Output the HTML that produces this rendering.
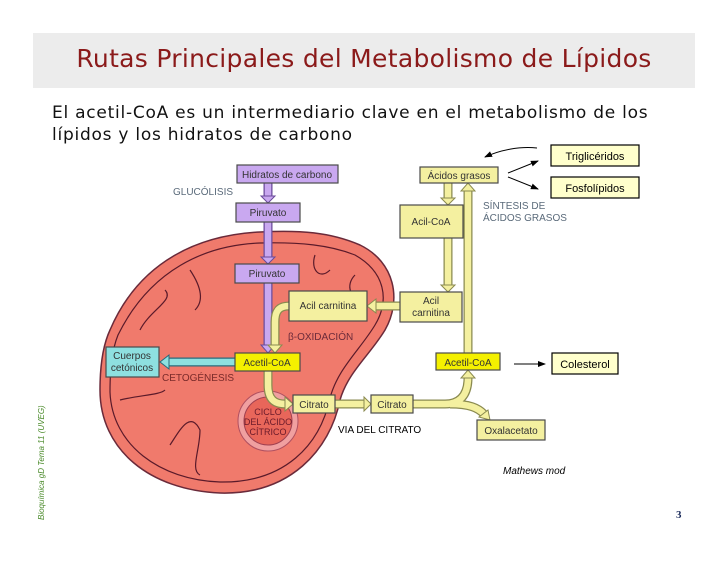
<!DOCTYPE html>
<html><head><meta charset="utf-8"><style>
body{margin:0;width:728px;height:563px;background:#fff;position:relative;overflow:hidden;font-family:"Liberation Sans",sans-serif}
.band{position:absolute;left:33px;top:33px;width:662px;height:55px;background:#ececec}
.title{position:absolute;left:33px;top:44px;width:662px;text-align:center;color:#8b1a1a;font-family:"DejaVu Sans",sans-serif;font-size:25px;letter-spacing:0.3px}
.body{position:absolute;left:52px;top:102px;font-family:"DejaVu Sans",sans-serif;font-size:17px;line-height:22px;color:#111;letter-spacing:0.75px}
</style></head><body>
<div class="band"></div>
<div class="title">Rutas Principales del Metabolismo de Lípidos</div>
<div class="body">El acetil-CoA es un intermediario clave en el metabolismo de los<br>lípidos y los hidratos de carbono</div>
<svg width="728" height="563" style="position:absolute;left:0;top:0" font-family="Liberation Sans, sans-serif">
<defs><marker id="ah" markerWidth="8" markerHeight="8" refX="7" refY="4" orient="auto"><path d="M0,1 L8,4 L0,7 Z" fill="#000"/></marker></defs>
<path d="M110,330 C140,260 200,235 260,232 C300,230 330,232 360,245 C395,262 402,300 385,330 C370,355 348,372 340,400 C330,450 290,495 220,493 C150,490 100,450 100,390 C100,365 103,345 110,330 Z" fill="#f07a6c" stroke="#6a2a3a" stroke-width="1.5"/>
<path d="M118,335 C150,270 205,245 260,243 C300,242 330,245 355,255 C385,272 390,300 375,325 C360,350 338,368 330,398 C320,445 285,483 220,482 C160,480 112,445 110,392 C110,368 112,350 118,335 Z" fill="none" stroke="#5a1a2a" stroke-width="1.2"/>
<g fill="none" stroke="#5a1a2a" stroke-width="1.2">
<path d="M140,330 C150,310 175,300 165,290"/><path d="M190,270 C200,285 205,300 195,310"/><path d="M315,255 C310,270 320,280 330,270"/><path d="M120,400 C140,395 160,395 165,390"/><path d="M170,445 C180,430 190,410 200,430 C200,450 190,470 200,475"/><path d="M355,275 C345,285 350,300 365,300"/>
</g>
<circle cx="268" cy="421" r="30" fill="#f0a0a0" stroke="#b05060" stroke-width="1"/>
<circle cx="268" cy="421" r="24" fill="#e8665a" stroke="#a04050" stroke-width="1"/>
<text x="268" y="415" font-size="9" fill="#6a1a2a" text-anchor="middle">CICLO</text>
<text x="268" y="425" font-size="9" fill="#6a1a2a" text-anchor="middle">DEL ÁCIDO</text>
<text x="268" y="435" font-size="9" fill="#6a1a2a" text-anchor="middle">CÍTRICO</text>
<g stroke="#6a4a9a" stroke-width="9" fill="none"><path d="M268,183 V198"/><path d="M268,222 V258"/><path d="M268,283 V346"/></g>
<g stroke="#c9a8f0" stroke-width="6.5" fill="none"><path d="M268,183 V198"/><path d="M268,222 V258"/><path d="M268,283 V346"/></g>
<g fill="#c9a8f0" stroke="#6a4a9a"><path d="M261,196 H275 L268,203 Z"/><path d="M261,257 H275 L268,264 Z"/><path d="M261,345 H275 L268,353 Z"/></g>
<path d="M235,362 H168" stroke="#2a6a7a" stroke-width="9"/><path d="M235,362 H168" stroke="#8ee0e0" stroke-width="6.5"/>
<path d="M169,355 V369 L160,362 Z" fill="#8ee0e0" stroke="#2a6a7a"/>
<g fill="none" stroke="#8a8a50" stroke-width="9">
<path d="M400,306 H375"/><path d="M289,306 C278,306 275,312 275,322 V346"/>
<path d="M268,371 V385 C268,400 275,404 285,404"/><path d="M335,404 H364"/>
<path d="M413,404 H445 C460,404 468,395 468,378"/><path d="M468,353 V190"/><path d="M450,404 C470,404 478,408 484,414"/>
<path d="M448,183 V198"/><path d="M448,238 V285"/>
</g>
<g fill="none" stroke="#f4f0a0" stroke-width="6.5">
<path d="M400,306 H375"/><path d="M289,306 C278,306 275,312 275,322 V346"/>
<path d="M268,371 V385 C268,400 275,404 285,404"/><path d="M335,404 H364"/>
<path d="M413,404 H445 C460,404 468,395 468,378"/><path d="M468,353 V190"/><path d="M450,404 C470,404 478,408 484,414"/>
<path d="M448,183 V198"/><path d="M448,238 V285"/>
</g>
<g fill="#f4f0a0" stroke="#8a8a50">
<path d="M376,299 V313 L367,306 Z"/><path d="M268,345 H282 L275,353 Z"/><path d="M285,397 V411 L293,404 Z"/><path d="M364,397 V411 L371,404 Z"/>
<path d="M461,378 H475 L468,370 Z"/><path d="M461,191 H475 L468,183 Z"/><path d="M479,417 L488,410 L490,420 Z"/>
<path d="M441,198 H455 L448,205 Z"/><path d="M441,285 H455 L448,292 Z"/>
</g>
<g stroke="#4a4a4a" stroke-width="1.2">
<rect x="237" y="165" width="101" height="18" fill="#c9a8f0"/>
<rect x="236" y="203" width="64" height="19" fill="#c9a8f0"/>
<rect x="235" y="264" width="64" height="19" fill="#c9a8f0"/>
<rect x="289" y="291" width="78" height="30" fill="#f4f0a0"/>
<rect x="235" y="353" width="65" height="18" fill="#f4f000"/>
<rect x="106" y="347" width="53" height="30" fill="#8ee0e0"/>
<rect x="293" y="395" width="42" height="18" fill="#f4f0a0"/>
<rect x="371" y="395" width="42" height="18" fill="#f4f0a0"/>
<rect x="420" y="167" width="78" height="16" fill="#f4f0a0"/>
<rect x="400" y="205" width="63" height="33" fill="#f4f0a0"/>
<rect x="400" y="292" width="62" height="30" fill="#f4f0a0"/>
<rect x="436" y="353" width="64" height="17" fill="#f4f000"/>
<rect x="477" y="420" width="68" height="20" fill="#f4f0a0"/>
<rect x="551" y="145" width="88" height="21" fill="#ffffcc" stroke="#000"/>
<rect x="551" y="177" width="88" height="21" fill="#ffffcc" stroke="#000"/>
<rect x="552" y="353" width="66" height="21" fill="#ffffcc" stroke="#000"/>
</g>
<g font-size="10" fill="#333" text-anchor="middle">
<text x="287" y="178">Hidratos de carbono</text>
<text x="268" y="216">Piruvato</text>
<text x="267" y="277">Piruvato</text>
<text x="328" y="309">Acil carnitina</text>
<text x="267" y="366">Acetil-CoA</text>
<text x="132" y="359">Cuerpos</text><text x="132" y="371">cetónicos</text>
<text x="314" y="408">Citrato</text><text x="392" y="408">Citrato</text>
<text x="459" y="179">Ácidos grasos</text>
<text x="431" y="225">Acil-CoA</text>
<text x="431" y="304">Acil</text><text x="431" y="316">carnitina</text>
<text x="468" y="366">Acetil-CoA</text>
<text x="511" y="434">Oxalacetato</text>
</g>
<g font-size="11" fill="#000" text-anchor="middle">
<text x="595" y="160">Triglicéridos</text><text x="595" y="192">Fosfolípidos</text><text x="585" y="368">Colesterol</text>
</g>
<g font-size="10" fill="#5a6a7a">
<text x="173" y="195">GLUCÓLISIS</text>
<text x="288" y="340" fill="#6a2a3a">β-OXIDACIÓN</text>
<text x="162" y="381" fill="#7a2a2a">CETOGÉNESIS</text>
<text x="483" y="209">SÍNTESIS DE</text><text x="483" y="221">ÁCIDOS GRASOS</text>
</g>
<text x="338" y="433" font-size="10" fill="#000">VIA DEL CITRATO</text>
<g stroke="#000" stroke-width="1" fill="none" marker-end="url(#ah)">
<path d="M537,148 C520,146 500,150 485,157"/><path d="M508,173 L538,161"/><path d="M508,177 L538,189"/><path d="M514,364 H545"/>
</g>
<text x="503" y="474" font-size="10" font-style="italic" fill="#000">Mathews mod</text>
<text x="676" y="518" font-size="11" font-weight="bold" fill="#1a2a5a" font-family="Liberation Serif, serif">3</text>
<text transform="translate(44,520) rotate(-90)" font-size="8" font-style="italic" fill="#4a8a2a">Bioquímica gD  Tema 11  (UVEG)</text>
</svg>
</body></html>
